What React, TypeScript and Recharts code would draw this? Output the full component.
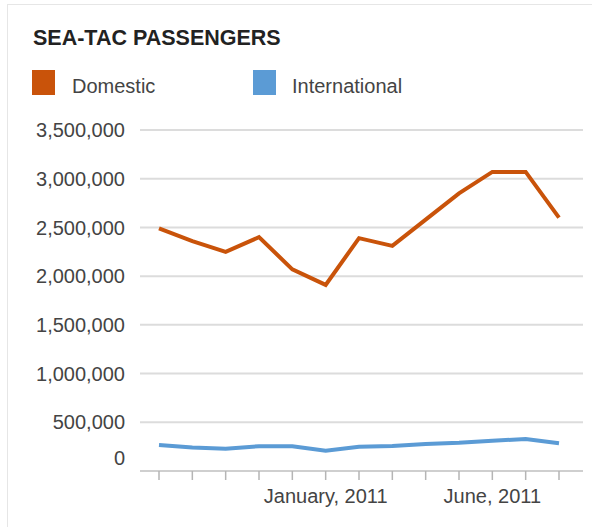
import React from "react";
import {
  LineChart,
  Line,
  XAxis,
  YAxis,
  CartesianGrid,
  Legend,
} from "recharts";

const months = [
  "2010-08", "2010-09", "2010-10", "2010-11", "2010-12",
  "2011-01", "2011-02", "2011-03", "2011-04", "2011-05",
  "2011-06", "2011-07", "2011-08",
];
const domestic = [
  2490000, 2360000, 2250000, 2400000, 2070000, 1910000, 2390000,
  2310000, 2580000, 2850000, 3070000, 3070000, 2600000,
];
const international = [
  267000, 240000, 228000, 255000, 255000, 208000, 250000,
  257000, 277000, 290000, 311000, 328000, 284000,
];
const monthLabels: Record<string, string> = {
  "2011-01": "January, 2011",
  "2011-06": "June, 2011",
};
const yTicks = [0, 500000, 1000000, 1500000, 2000000, 2500000, 3000000, 3500000];

const FONT = "Arial, 'Liberation Sans', sans-serif";
const DOM_COLOR = "#c9530a";
const INT_COLOR = "#5b9bd5";

const data = months.map((m, i) => ({
  month: m,
  Domestic: domestic[i],
  International: international[i],
}));

const YTick = (props: any) => {
  const { x, y, payload } = props;
  const shift = payload.value === 0 ? -13 : 0;
  return (
    <text
      x={x}
      y={y + shift}
      dy="0.355em"
      textAnchor="end"
      fill="#444"
      fontSize={20}
      fontFamily={FONT}
    >
      {payload.value.toLocaleString("en-US")}
    </text>
  );
};

const renderLegend = () => (
  <div style={{ position: "relative", width: 592, height: 110, fontFamily: FONT }}>
    <div style={{ position: "absolute", left: 32, top: 70, width: 23, height: 25, background: DOM_COLOR }} />
    <div style={{ position: "absolute", left: 72, top: 76, fontSize: 20, lineHeight: 1, color: "#444" }}>
      Domestic
    </div>
    <div style={{ position: "absolute", left: 253, top: 70, width: 23, height: 25, background: INT_COLOR }} />
    <div style={{ position: "absolute", left: 292, top: 76, fontSize: 20, lineHeight: 1, color: "#444" }}>
      International
    </div>
  </div>
);

export default function App() {
  return (
    <div
      style={{
        position: "absolute",
        left: 0,
        top: 0,
        width: 592,
        height: 527,
        background: "#fff",
        overflow: "hidden",
      }}
    >
      <div
        style={{
          position: "absolute",
          left: 7,
          top: 4,
          width: 600,
          height: 600,
          borderTop: "1px solid #e6e6e6",
          borderLeft: "1px solid #e6e6e6",
        }}
      />
      <div
        style={{
          position: "absolute",
          left: 33,
          top: 28,
          fontFamily: FONT,
          fontWeight: "bold",
          fontSize: 21.5,
          lineHeight: 1,
          color: "#222",
          whiteSpace: "nowrap",
        }}
      >
        SEA-TAC PASSENGERS
      </div>
      <LineChart
        width={592}
        height={527}
        data={data}
        margin={{ top: 130, right: 9, bottom: 16, left: 0 }}
      >
        <CartesianGrid vertical={false} stroke="#dcdcdc" strokeWidth={2} />
        <XAxis
          dataKey="month"
          interval={0}
          height={40}
          padding={{ left: 19, right: 24 }}
          axisLine={{ stroke: "#cfcfcf", strokeWidth: 2 }}
          tickLine={{ stroke: "#b5b5b5", strokeWidth: 1.5 }}
          tickSize={9}
          tickMargin={9}
          tick={{ fill: "#444", fontSize: 20, fontFamily: FONT }}
          tickFormatter={(m: string) => monthLabels[m] || ""}
        />
        <YAxis
          width={140}
          domain={[0, 3500000]}
          ticks={yTicks}
          axisLine={false}
          tickLine={false}
          tickSize={0}
          tickMargin={15}
          tick={<YTick />}
        />
        <Legend
          layout="horizontal"
          verticalAlign="middle"
          align="center"
          wrapperStyle={{ top: 0, left: 0, width: 592, height: 110 }}
          content={renderLegend}
        />
        <Line
          type="linear"
          dataKey="Domestic"
          stroke={DOM_COLOR}
          strokeWidth={4}
          dot={false}
          isAnimationActive={false}
        />
        <Line
          type="linear"
          dataKey="International"
          stroke={INT_COLOR}
          strokeWidth={4}
          dot={false}
          isAnimationActive={false}
        />
      </LineChart>
    </div>
  );
}
